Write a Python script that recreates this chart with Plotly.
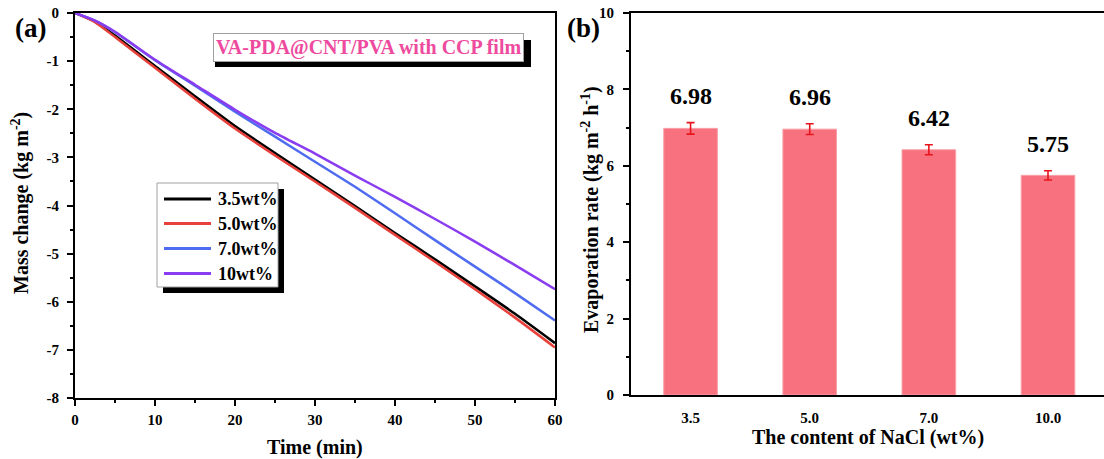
import plotly.graph_objects as go

# ---------------- data ----------------
time_min = [0, 2.5, 5, 10, 15, 20, 25, 30, 35, 40, 45, 50, 55, 60]
mass_35 = [0, -0.18, -0.47, -1.10, -1.73, -2.35, -2.91, -3.46, -4.01, -4.57, -5.12, -5.68, -6.25, -6.86]
mass_50 = [0, -0.19, -0.50, -1.14, -1.78, -2.40, -2.96, -3.50, -4.05, -4.61, -5.17, -5.74, -6.33, -6.95]
mass_70 = [0, -0.16, -0.40, -0.98, -1.51, -2.05, -2.57, -3.09, -3.61, -4.16, -4.72, -5.27, -5.82, -6.39]
mass_10 = [0, -0.16, -0.39, -0.97, -1.49, -2.01, -2.49, -2.92, -3.38, -3.82, -4.28, -4.75, -5.24, -5.74]
series_names = ["3.5wt%", "5.0wt%", "7.0wt%", "10wt%"]

nacl_cats = ["3.5", "5.0", "7.0", "10.0"]
evap_rate = [6.98, 6.96, 6.42, 5.75]
evap_err = [0.15, 0.14, 0.13, 0.12]
evap_labels = ["6.98", "6.96", "6.42", "5.75"]

xa_ticks = [0, 10, 20, 30, 40, 50, 60]
ya_ticks = [0, -1, -2, -3, -4, -5, -6, -7, -8]
ya_ticktext = ["0", "-1", "-2", "-3", "-4", "-5", "-6", "-7", "-8"]
yb_ticks = [0, 2, 4, 6, 8, 10]

# ---------------- style ----------------
W, H = 1104, 459
FONT = "Liberation Serif"
colors = ["#000000", "#E8403A", "#4F6CF0", "#8A3CF0"]
bar_color = "#F7717F"

def px(x):
    return x / W

def py(y):
    return 1 - y / H

fig = go.Figure()

for name, ys, c in zip(series_names, [mass_35, mass_50, mass_70, mass_10], colors):
    fig.add_trace(go.Scatter(x=time_min, y=ys, mode="lines", name=name, showlegend=False,
                             line=dict(color=c, width=2.5, shape="spline", smoothing=0.6),
                             xaxis="x", yaxis="y"))

fig.add_trace(go.Bar(x=nacl_cats, y=evap_rate, width=0.45, showlegend=False,
                     marker=dict(color=bar_color, line=dict(color="#F9A0A8", width=1)),
                     error_y=dict(type="data", array=evap_err, color="#E8141C",
                                  thickness=1.6, width=4),
                     xaxis="x2", yaxis="y2"))

axis_font = dict(family=FONT, size=15, color="black", weight="bold")
common = dict(showgrid=False, zeroline=False, tickfont=axis_font, automargin=False,
              showline=True, linewidth=2, linecolor="black")

fig.update_layout(
    template="none",
    width=W, height=H, autosize=False,
    margin=dict(l=0, r=0, t=0, b=0, pad=0, autoexpand=False),
    plot_bgcolor="white", paper_bgcolor="white",
    font=dict(family=FONT, color="black"),
    showlegend=False,
    xaxis=dict(domain=[px(75), px(555)], range=[0, 60], tickvals=xa_ticks,
               ticks="outside", ticklen=6, tickwidth=2, tickcolor="black", ticklabelstandoff=1,
               minor=dict(dtick=5, ticks="outside", ticklen=3, tickwidth=2, tickcolor="black"),
               mirror=True, anchor="y", **common),
    yaxis=dict(domain=[py(398), py(13)], range=[-8, 0], tickvals=ya_ticks, ticktext=ya_ticktext,
               ticks="outside", ticklen=6, tickwidth=2, tickcolor="black", ticklabelstandoff=5,
               minor=dict(dtick=0.5, ticks="outside", ticklen=3, tickwidth=2, tickcolor="black"),
               mirror=True, anchor="x", **common),
    xaxis2=dict(domain=[px(631), 1.0], range=[-0.5, 3.47], type="category",
                ticks="", ticklabelstandoff=8, mirror=True, anchor="y2", **common),
    yaxis2=dict(domain=[py(395), py(13)], range=[0, 10], tickvals=yb_ticks,
                ticks="outside", ticklen=6, tickwidth=2, tickcolor="black", ticklabelstandoff=6,
                minor=dict(dtick=1, ticks="outside", ticklen=3, tickwidth=2, tickcolor="black"),
                anchor="x2", **common),
)

shapes = []
# title-box shadow
shapes.append(dict(type="rect", xref="paper", yref="paper",
                   x0=px(215), x1=px(531), y0=py(67), y1=py(40),
                   fillcolor="black", line=dict(width=0), layer="above"))
# legend box with shadow
shapes.append(dict(type="rect", xref="paper", yref="paper",
                   x0=px(163), x1=px(284), y0=py(293), y1=py(189),
                   fillcolor="black", line=dict(width=0), layer="above"))
shapes.append(dict(type="rect", xref="paper", yref="paper",
                   x0=px(157), x1=px(278), y0=py(287), y1=py(183),
                   fillcolor="white", line=dict(color="#A0A0A0", width=1), layer="above"))

annotations = []
legend_rows = [199, 223.5, 248.5, 273.5]
for name, c, row in zip(series_names, colors, legend_rows):
    shapes.append(dict(type="line", xref="paper", yref="paper",
                       x0=px(164), x1=px(211), y0=py(row), y1=py(row),
                       line=dict(color=c, width=3), layer="above"))
    annotations.append(dict(x=px(216), y=py(row), xref="paper", yref="paper", text=name,
                            showarrow=False, xanchor="left", yanchor="middle",
                            font=dict(family=FONT, size=18, color="black", weight="bold")))

# title box
annotations.append(dict(x=px(368.5), y=py(48), xref="paper", yref="paper",
                        text="VA-PDA@CNT/PVA with CCP film", showarrow=False,
                        font=dict(family=FONT, size=20, color="#EE4A9E", weight="bold"),
                        bgcolor="white", bordercolor="#A0A0A0", borderwidth=1, borderpad=2,
                        xanchor="center", yanchor="middle"))
# panel labels
annotations.append(dict(x=px(30), y=py(28), xref="paper", yref="paper", text="(a)",
                        showarrow=False, font=dict(family=FONT, size=27, weight="bold"),
                        xanchor="center", yanchor="middle"))
annotations.append(dict(x=px(583), y=py(28), xref="paper", yref="paper", text="(b)",
                        showarrow=False, font=dict(family=FONT, size=27, weight="bold"),
                        xanchor="center", yanchor="middle"))
# axis titles
title_font = dict(family=FONT, size=20, color="black", weight="bold")
annotations.append(dict(x=px(315), y=py(447), xref="paper", yref="paper", text="Time (min)",
                        showarrow=False, font=title_font, xanchor="center", yanchor="middle"))
annotations.append(dict(x=px(20), y=py(203), xref="paper", yref="paper",
                        text="Mass change (kg m<sup>-2</sup>)", textangle=-90,
                        showarrow=False, font=title_font, xanchor="center", yanchor="middle"))
annotations.append(dict(x=px(868), y=py(437), xref="paper", yref="paper",
                        text="The content of NaCl (wt%)",
                        showarrow=False, font=title_font, xanchor="center", yanchor="middle"))
annotations.append(dict(x=px(591), y=py(210), xref="paper", yref="paper",
                        text="Evaporation rate (kg m<sup>-2</sup> h<sup>-1</sup>)", textangle=-90,
                        showarrow=False, font=title_font, xanchor="center", yanchor="middle"))
# bar value labels (category index positions)
for i, (v, e, lab) in enumerate(zip(evap_rate, evap_err, evap_labels)):
    annotations.append(dict(x=i, y=v + e, xref="x2", yref="y2", text=lab, showarrow=False,
                            yanchor="bottom", yshift=12,
                            font=dict(family=FONT, size=24, color="black", weight="bold")))

fig.update_layout(shapes=shapes, annotations=annotations)

fig.write_html("out.html")
